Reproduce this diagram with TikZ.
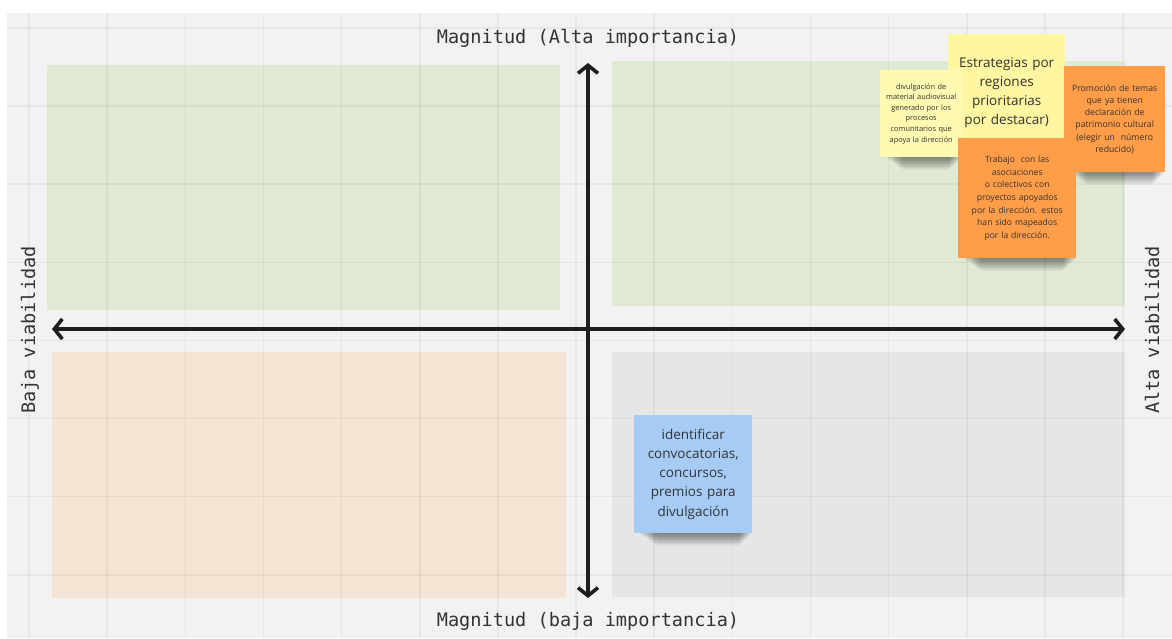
\documentclass[tikz,border=0pt]{standalone}
\usepackage{fontspec}
\setmainfont{Open Sans}
\newfontfamily\monofont{DejaVu Sans Mono}
\usetikzlibrary{arrows.meta}

\pgfdeclarelayer{noteshadows}
\pgfdeclarelayer{notes}
\pgfsetlayers{main,noteshadows,notes}

\definecolor{board}{HTML}{F2F2F2}
\definecolor{qgreen}{HTML}{DFE9D4}
\definecolor{qpeach}{HTML}{F5E3D3}
\definecolor{qgrey}{HTML}{E6E6E6}
\definecolor{ink}{HTML}{1E1E1E}
\definecolor{labelink}{HTML}{333333}
\definecolor{noteyellow}{HTML}{FFF9B1}
\definecolor{noteyellowB}{HTML}{FEF6A0}
\definecolor{noteorange}{HTML}{FF9D48}
\definecolor{noteblue}{HTML}{A6CCF5}
\definecolor{notetext}{HTML}{333333}

\tikzset{
  quadrant/.style={draw=none, inner sep=0pt, anchor=north west},
  gridline/.style={line width=1.6pt, black, opacity=0.045},
  axis/.style={line width=3.6pt, ink, {Straight Barb[length=8pt,width=20pt,line width=3.6pt]}-{Straight Barb[length=8pt,width=20pt,line width=3.6pt]}},
  axislabel/.style={font=\monofont\fontsize{18.6}{21}\selectfont, text=labelink, inner sep=0pt},
  sticky/.style={anchor=north west, inner sep=2pt, align=center, text=notetext},
  shadowband/.style={fill=black, fill opacity=0.03, draw=none},
}

\begin{document}
\begin{tikzpicture}[x=1pt,y=-1pt]
  \useasboundingbox (0,0) rectangle (1172,638);
  \fill[white] (0,0) rectangle (1172,638);
  % board background
  \fill[board] (7,13) rectangle (1172,638);

  % quadrants
  \node[quadrant, fill=qgreen, minimum width=513pt, minimum height=245pt] (qtl) at (47,65) {};
  \node[quadrant, fill=qgreen, minimum width=513pt, minimum height=245pt] (qtr) at (612,61) {};
  \node[quadrant, fill=qpeach, minimum width=514pt, minimum height=246pt] (qbl) at (52,352) {};
  \node[quadrant, fill=qgrey,  minimum width=513pt, minimum height=245pt] (qbr) at (612,352) {};

  % board grid
  \foreach \k in {0,...,14} {
    \draw[gridline] ({29+78.15*\k},13) -- ({29+78.15*\k},638);
  }
  \foreach \k in {0,...,7} {
    \draw[gridline] (7,{28+78.1*\k}) -- (1172,{28+78.1*\k});
  }

  % axes
  \coordinate (xl) at (52,329);
  \coordinate (xr) at (1125,329);
  \coordinate (yt) at (588,63);
  \coordinate (yb) at (588,598);
  \draw[axis] (xl) -- (xr);
  \draw[axis] (yt) -- (yb);

  % axis labels
  \node[axislabel] (ltop) at (588,38) {Magnitud (Alta importancia)};
  \node[axislabel] (lbot) at (588,621) {Magnitud (baja importancia)};
  \node[axislabel, rotate=90] (lleft) at (30,330) {Baja viabilidad};
  \node[axislabel, rotate=90] (lright) at (1152,330) {Alta viabilidad};

  % sticky notes, back to front
  \begin{pgfonlayer}{notes}
  \node[sticky, fill=noteyellowB, minimum width=117pt, minimum height=117pt, text width=113pt,
        font=\fontsize{13.5}{19}\selectfont] (nest) at (948,34)
    {Estrategias por\\regiones\\prioritarias\\por destacar)};
  \node[sticky, fill=noteyellow, minimum width=80pt, minimum height=87pt, text width=78pt,
        font=\fontsize{7.4}{10.6}\selectfont] (ndiv) at (880,70)
    {divulgación de\\material audiovisual\\generado por los\\procesos\\comunitarios que\\apoya la dirección};
  \node[sticky, fill=noteorange, minimum width=101pt, minimum height=106pt, text width=97pt,
        font=\fontsize{8.7}{12.3}\selectfont] (nprom) at (1064,66)
    {Promoción de temas\\que ya tienen\\declaración de\\patrimonio cultural\\(elegir un~ número\\reducido)};
  \node[sticky, fill=noteorange, minimum width=118pt, minimum height=120pt, text width=114pt,
        font=\fontsize{8.6}{12.7}\selectfont] (ntrab) at (958,138)
    {Trabajo~ con las\\asociaciones\\o colectivos con\\proyectos apoyados\\por la dirección. estos\\han sido mapeados\\por la dirección.};
  \node[sticky, fill=noteblue, minimum width=118pt, minimum height=118pt, text width=114pt,
        font=\fontsize{13.5}{19.2}\selectfont] (nblue) at (634,415)
    {identificar\\convocatorias,\\concursos,\\premios para\\divulgación};
  \end{pgfonlayer}

  % soft drop shadows under the bottom edge of every note
  \begin{pgfonlayer}{noteshadows}
  \foreach \n in {nest,ndiv,nprom,ntrab,nblue} {
    \foreach \i in {0,...,15} {
      \fill[shadowband]
        ([xshift={6pt+\i*1.1pt}, yshift=3pt] \n.south west)
        rectangle ([xshift={-1pt-\i*0.8pt}, yshift={-1pt-\i*0.75pt}] \n.south east);
    }
  }
  \end{pgfonlayer}
\end{tikzpicture}
\end{document}
